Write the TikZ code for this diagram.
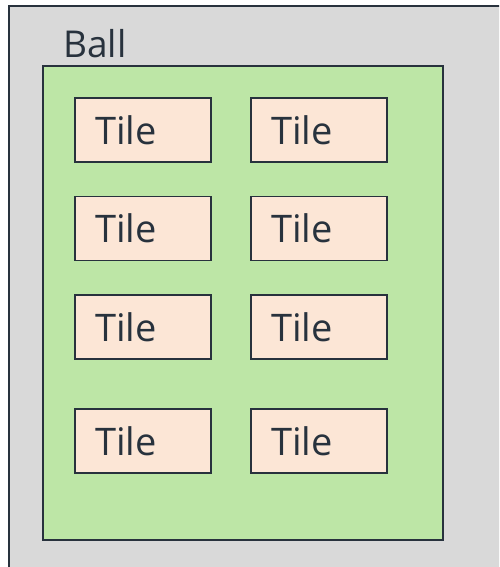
\documentclass[tikz,border=0pt]{standalone}
\usepackage{fontspec}
\setmainfont{Open Sans}
\usetikzlibrary{positioning}

\definecolor{ballgray}{HTML}{D9D9D9}
\definecolor{ballgreen}{HTML}{BDE6A6}
\definecolor{tilepeach}{HTML}{FCE6D6}
\definecolor{inkslate}{HTML}{28323D}

\tikzset{
    tilebox/.style={draw=inkslate, line width=1.5pt, fill=tilepeach, text=inkslate,
        minimum width=136pt, minimum height=64pt, inner sep=0pt,
        text width=96pt, align=left, font=\fontsize{38}{40}\selectfont},
}

\begin{document}
\begin{tikzpicture}[x=1pt, y=-1pt]
    \useasboundingbox (0,0) rectangle (499,567);
    \clip (0,0) rectangle (499,567);

    % Draw ball area
    \draw[draw=inkslate, line width=1.8pt, fill=ballgray] (9,6) rectangle (520,590);
    \node[anchor=base west, text=inkslate, inner sep=0pt, font=\fontsize{37}{40}\selectfont] (balllabel) at (63,58) {Ball};
    \draw[draw=inkslate, line width=1.5pt, fill=ballgreen] (43,66) rectangle (443,540);

    % Draw tiles
    \node[tilebox] (tile11) at (143,130) {Tile};
    \node[tilebox] (tile12) at (319,130) {Tile};
    \node[tilebox] (tile21) at (143,228.5) {Tile};
    \node[tilebox] (tile22) at (319,228.5) {Tile};
    \node[tilebox] (tile31) at (143,327) {Tile};
    \node[tilebox] (tile32) at (319,327) {Tile};
    \node[tilebox] (tile41) at (143,441) {Tile};
    \node[tilebox] (tile42) at (319,441) {Tile};
\end{tikzpicture}
\end{document}
